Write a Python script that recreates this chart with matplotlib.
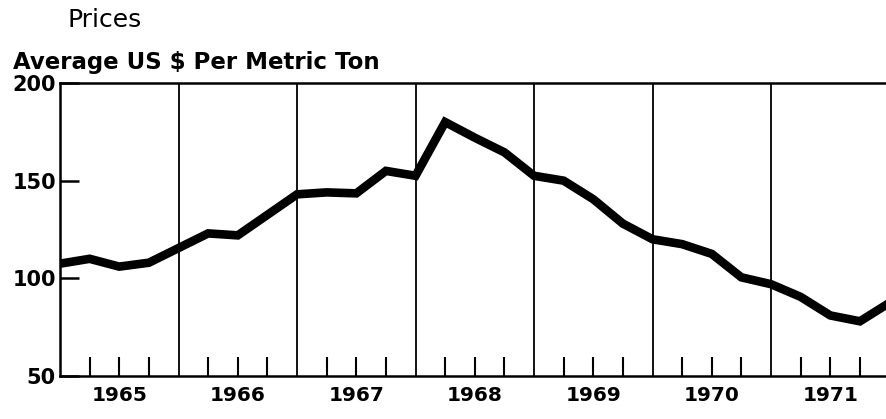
import numpy as np
import matplotlib.pyplot as plt

# quarterly prices, average US $ per metric ton
quarters = np.arange(1965.0, 1972.01, 0.25)
prices = [107.5, 110, 106, 108,
          115.5, 123, 122, 132.5,
          143, 144, 143.5, 155,
          152.5, 180, 172, 164.5,
          152.5, 150, 140.5, 128,
          120, 117.5, 112.5, 100.5,
          97, 90.5, 81, 78,
          87.5]
years = [1965, 1966, 1967, 1968, 1969, 1970, 1971]
y_ticks = [50, 100, 150, 200]

fig = plt.figure(figsize=(8.86, 4.19), dpi=100)
ax = fig.add_axes([60 / 886, 1 - 376 / 419, 1 - 60 / 886, (376 - 83) / 419])

ax.plot(quarters, prices, color='black', lw=6.2, solid_joinstyle='miter', zorder=3)

# year dividers
for yr in years[1:]:
    ax.axvline(yr, color='black', lw=1.3)

ax.set_xlim(1965, 1971.97)
ax.set_ylim(50, 200)

# quarter tick marks along the bottom, inside
qt = [y + q for y in years for q in (0.25, 0.5, 0.75)]
ax.set_xticks(qt)
ax.set_xticklabels([])
ax.tick_params(axis='x', direction='in', length=14, width=1.5)

ax.set_yticks(y_ticks)
ax.set_yticklabels([str(v) for v in y_ticks], fontsize=15, fontweight='bold')
ax.tick_params(axis='y', direction='in', length=14, width=1.8, pad=3)

for yr in years:
    ax.text(yr + 0.5, -0.035, str(yr), transform=ax.get_xaxis_transform(),
            ha='center', va='top', fontsize=14.5, fontweight='bold')

for s in ['left', 'bottom', 'top']:
    ax.spines[s].set_linewidth(1.8)
ax.spines['right'].set_visible(False)

fig.text(67 / 886, 1 - 20 / 419, 'Prices', fontsize=18, va='center', ha='left')
fig.text(13 / 886, 1 - 62 / 419, 'Average US $ Per Metric Ton', fontsize=16.5,
         fontweight='bold', va='center', ha='left')

fig.savefig('out.png', dpi=100)
